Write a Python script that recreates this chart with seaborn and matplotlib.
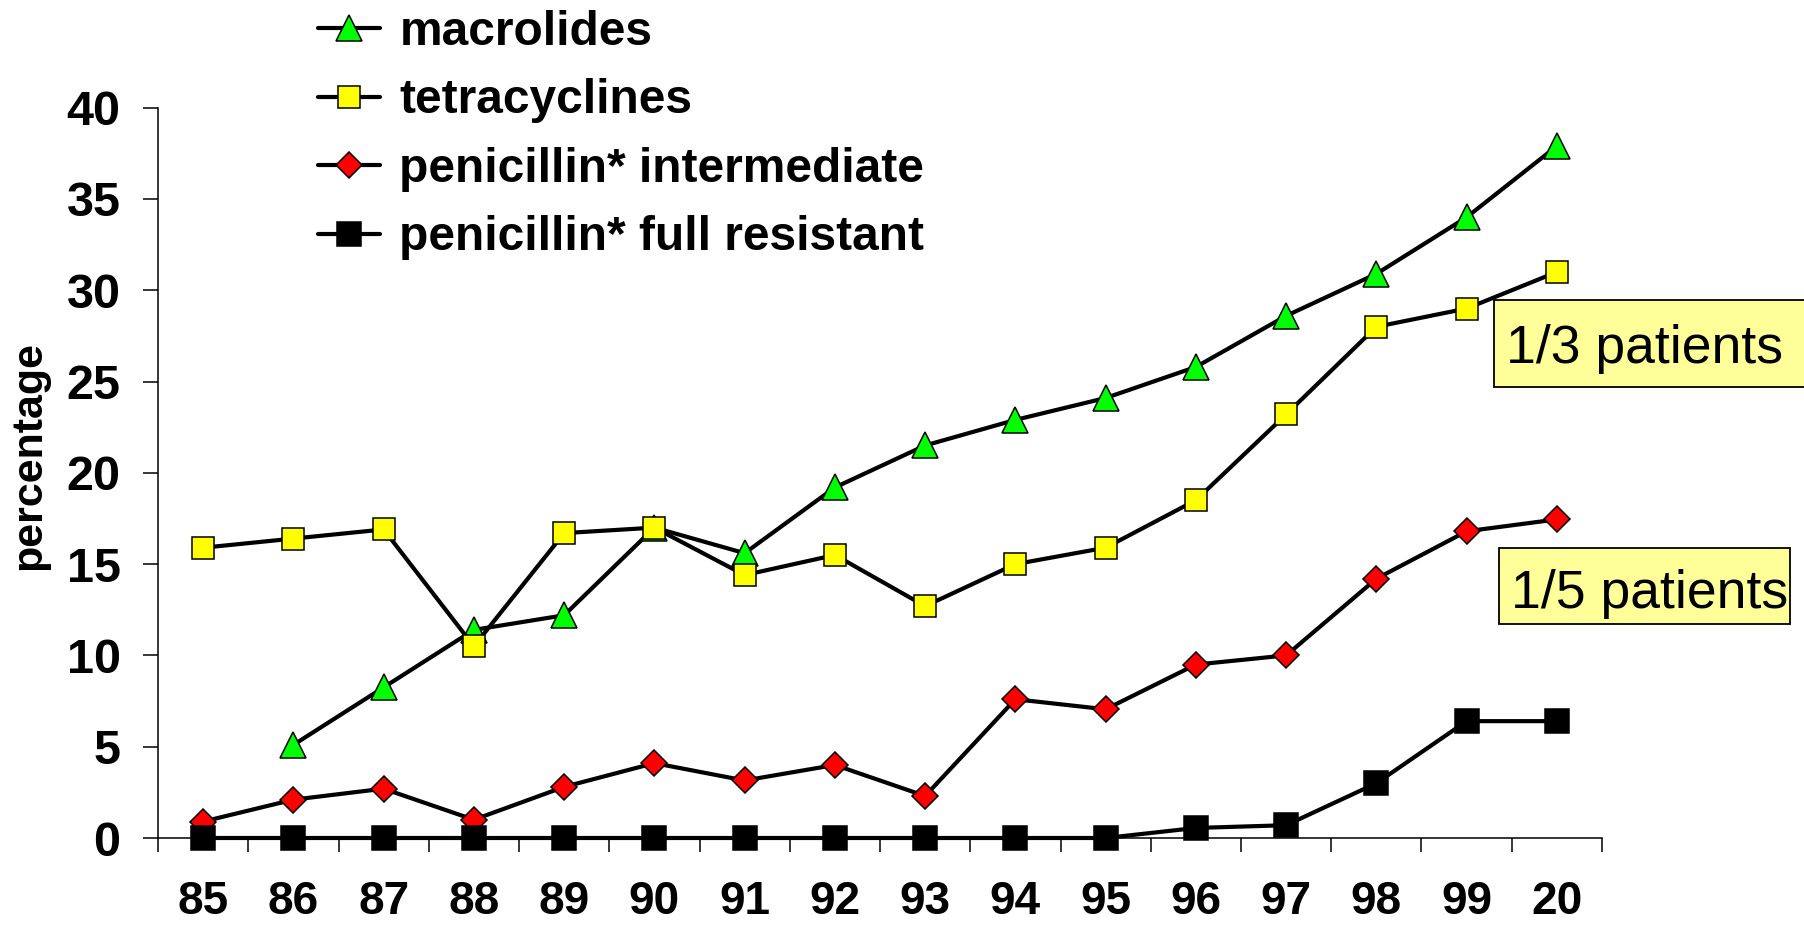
import numpy as np
import pandas as pd
import matplotlib
matplotlib.use("Agg")
import matplotlib.pyplot as plt
from matplotlib.patches import Rectangle
from matplotlib.ticker import FixedLocator, NullFormatter
import seaborn as sns

years = ["85", "86", "87", "88", "89", "90", "91", "92", "93", "94", "95", "96", "97", "98", "99", "20"]
macrolides = [np.nan, 5.1, 8.25, 11.4, 12.2, 17.0, 15.6, 19.2, 21.5, 22.9, 24.1, 25.8, 28.6, 30.9, 34.0, 37.9]
tetracyclines = [15.9, 16.4, 16.9, 10.5, 16.7, 17.0, 14.4, 15.5, 12.7, 15.0, 15.9, 18.5, 23.2, 28.0, 29.0, 31.0]
pen_intermediate = [0.9, 2.1, 2.7, 1.0, 2.8, 4.1, 3.15, 4.0, 2.3, 7.6, 7.05, 9.5, 10.0, 14.2, 16.8, 17.45]
pen_full = [0.0, 0.0, 0.0, 0.0, 0.0, 0.0, 0.0, 0.0, 0.0, 0.0, 0.0, 0.55, 0.7, 3.0, 6.4, 6.4]

series_names = ["macrolides", "tetracyclines", "penicillin* intermediate", "penicillin* full resistant"]
series_values = [macrolides, tetracyclines, pen_intermediate, pen_full]
face_colors = ["#00FF00", "#FFFF00", "#FF0000", "#000000"]
markers = ["^", "s", "D", "s"]
msizes = [19, 16.5, 13, 17.5]

yticks = [0, 5, 10, 15, 20, 25, 30, 35, 40]
box_labels = ["1/3 patients", "1/5 patients"]

sns.set_style("white")
plt.rcParams["font.family"] = ["Liberation Sans", "DejaVu Sans"]
plt.rcParams["text.color"] = "black"
plt.rcParams["axes.labelcolor"] = "black"
plt.rcParams["xtick.color"] = "black"
plt.rcParams["ytick.color"] = "black"

W, H = 1804, 931
fig = plt.figure(figsize=(W / 100, H / 100), dpi=100)
ax = fig.add_axes([158 / W, 1 - 838 / H, (1602 - 158) / W, (838 - 107.7) / H])

pos = np.arange(len(years))
for name, vals, fc, mk, ms in zip(series_names, series_values, face_colors, markers, msizes):
    df = pd.DataFrame({"x": pos, "y": vals})
    sns.lineplot(data=df, x="x", y="y", ax=ax, color="black", linewidth=3,
                 marker=mk, markersize=ms, markerfacecolor=fc, markeredgecolor="black",
                 markeredgewidth=1.1, label=name, clip_on=False, zorder=3)

ax.set_xlim(-0.5, len(years) - 0.5)
ax.set_ylim(0, 40)
ax.set_yticks(yticks)
ax.set_yticklabels([str(v) for v in yticks])
ax.set_xticks(pos)
ax.set_xticklabels(years)
ax.xaxis.set_minor_locator(FixedLocator(np.arange(-0.5, len(years), 1.0)))
ax.xaxis.set_minor_formatter(NullFormatter())

for s in ["top", "right"]:
    ax.spines[s].set_visible(False)
for s in ["left", "bottom"]:
    ax.spines[s].set_color("black")
    ax.spines[s].set_linewidth(1.1)

ax.tick_params(axis="y", which="major", direction="out", length=11, width=1.1,
               color="black", labelcolor="black", pad=16, labelsize=35, left=True)
ax.tick_params(axis="x", which="major", length=0, pad=30.5, labelsize=33,
               labelcolor="black", bottom=True)
ax.tick_params(axis="x", which="minor", direction="out", length=10, width=1.1,
               color="black", bottom=True)
for lab in ax.get_xticklabels() + ax.get_yticklabels():
    lab.set_fontweight("bold")

ax.set_xlabel("")
ax.set_ylabel("percentage", fontsize=31, fontweight="bold", color="black",
              va="center", ha="center")
ax.yaxis.set_label_coords((29 - 158) / (1602 - 158), (838 - 455) / (838 - 107.7))
ax.grid(False)

handles, labels = ax.get_legend_handles_labels()
leg = ax.legend(handles, labels, loc="upper left", bbox_to_anchor=(318 / W, 1 - 10 / H),
                bbox_transform=fig.transFigure, frameon=False, borderpad=0, borderaxespad=0,
                handlelength=1.3, handletextpad=0.4, labelspacing=0.49,
                prop={"family": "Liberation Sans", "weight": "bold", "size": 34.5})
for t in leg.get_texts():
    t.set_color("black")

# annotation boxes
boxes = [(1494, 300, 1830, 387, 363), (1499, 548, 1790, 624, 608)]
for (x0, y0, x1, y1, base), txt in zip(boxes, box_labels):
    fig.patches.append(Rectangle((x0 / W, 1 - y1 / H), (x1 - x0) / W, (y1 - y0) / H,
                                 transform=fig.transFigure, facecolor="#FFFF99",
                                 edgecolor="black", linewidth=1.3, zorder=5))
    fig.text((x0 + 12) / W, 1 - base / H, txt, ha="left", va="baseline", fontsize=38.5,
             family="Liberation Sans", color="black", zorder=6)

fig.savefig("out.png", dpi=100)
